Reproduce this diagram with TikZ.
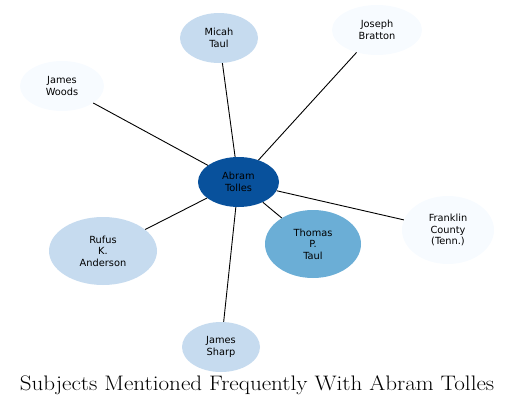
\documentclass[tikz,border=0pt]{standalone}
\usepackage{fontspec}
\newfontfamily\nodefont{DejaVu Sans}
\usepackage{tikz}
\usetikzlibrary{shapes.geometric}
\definecolor{darkblue}{HTML}{08519C}
\definecolor{midblue}{HTML}{6BAED6}
\definecolor{paleblue}{HTML}{C6DBEF}
\definecolor{faintblue}{HTML}{F7FBFF}

\begin{document}
\begin{tikzpicture}[
  x=1pt, y=-1pt,
  edge/.style={draw=black, line width=0.9pt},
  person/.style={ellipse, draw=none, inner sep=0pt, align=center, font=\nodefont\fontsize{9.8}{11.5}\selectfont},
  small/.style={person, minimum width=80pt, minimum height=50pt},
  large/.style={person, minimum width=100pt, minimum height=68pt}
]
\useasboundingbox (0,0) rectangle (515,407);

\node[small, fill=darkblue, minimum width=81pt] (abram)    at (238.5,182) {Abram\\Tolles};
\node[small, fill=paleblue, minimum width=78pt] (micah)    at (219,38)    {Micah\\Taul};
\node[small, fill=faintblue, minimum width=90pt] (bratton) at (377,30)    {Joseph\\Bratton};
\node[small, fill=faintblue, minimum width=84pt] (woods)   at (62,86)     {James\\Woods};
\node[large, fill=paleblue, minimum width=108pt] (rufus)   at (103,251)   {Rufus\\K.\\Anderson};
\node[large, fill=midblue, minimum width=96pt] (thomas)    at (313,244)   {Thomas\\P.\\Taul};
\node[large, fill=faintblue, minimum width=92pt] (franklin) at (448,230)  {Franklin\\County\\(Tenn.)};
\node[small, fill=paleblue, minimum width=78pt] (sharp)    at (221,347)   {James\\Sharp};

\draw[edge] (abram) -- (micah);
\draw[edge] (abram) -- (bratton);
\draw[edge] (abram) -- (woods);
\draw[edge] (abram) -- (rufus);
\draw[edge] (abram) -- (thomas);
\draw[edge] (abram) -- (franklin);
\draw[edge] (abram) -- (sharp);

\node[font=\fontsize{21}{24}\selectfont, xscale=1.1] (title) at (257,385) {Subjects Mentioned Frequently With Abram Tolles};
\end{tikzpicture}
\end{document}
